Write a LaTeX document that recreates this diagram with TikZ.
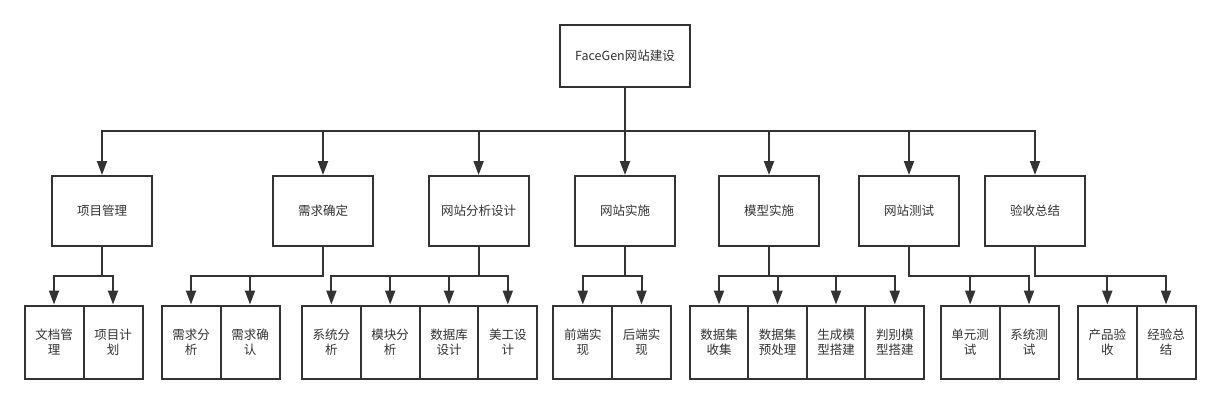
\documentclass[tikz,border=0pt]{standalone}
\usepackage{fontspec}
\setmainfont{Noto Sans CJK SC}
\usetikzlibrary{arrows.meta}
\definecolor{linec}{HTML}{333333}
\definecolor{textc}{HTML}{333333}
\begin{document}
\begin{tikzpicture}[x=1pt,y=-1pt,
  box/.style={draw=linec, line width=2pt, fill=white, inner sep=0pt, align=center, text=textc, font=\fontsize{12.5}{15}\selectfont},
  rootbox/.style={box, minimum width=130pt, minimum height=62pt},
  midbox/.style={box, minimum width=100pt, minimum height=70pt},
  leafbox/.style={box, minimum width=59pt, minimum height=73pt},
  conn/.style={draw=linec, line width=2pt, -{Triangle[length=14pt,width=10pt]}}
]
\useasboundingbox (0,0) rectangle (1221,404);
\coordinate (b1) at (0,131);
\coordinate (b2) at (0,276);

\node[rootbox] (root) at (625,56) {FaceGen网站建设};

\node[midbox] (m1) at (102,211) {项目管理};
\node[midbox] (m2) at (323,211) {需求确定};
\node[midbox] (m3) at (478.6,211) {网站分析设计};
\node[midbox] (m4) at (625,211) {网站实施};
\node[midbox] (m5) at (769,211) {模型实施};
\node[midbox] (m6) at (909,211) {网站测试};
\node[midbox] (m7) at (1035,211) {验收总结};

\node[leafbox] (l1) at (54,342) {文档管\\理};
\node[leafbox] (l2) at (113,342) {项目计\\划};
\node[leafbox] (l3) at (191,342) {需求分\\析};
\node[leafbox] (l4) at (250,342) {需求确\\认};
\node[leafbox] (l5) at (331.4,342) {系统分\\析};
\node[leafbox] (l6) at (390.2,342) {模块分\\析};
\node[leafbox] (l7) at (449,342) {数据库\\设计};
\node[leafbox] (l8) at (507.8,342) {美工设\\计};
\node[leafbox] (l9) at (582.8,342) {前端实\\现};
\node[leafbox] (l10) at (641.5,342) {后端实\\现};
\node[leafbox] (l11) at (719,342) {数据集\\收集};
\node[leafbox] (l12) at (777.5,342) {数据集\\预处理};
\node[leafbox] (l13) at (836,342) {生成模\\型搭建};
\node[leafbox] (l14) at (894.8,342) {判别模\\型搭建};
\node[leafbox] (l15) at (970.2,342) {单元测\\试};
\node[leafbox] (l16) at (1029,342) {系统测\\试};
\node[leafbox] (l17) at (1107.3,342) {产品验\\收};
\node[leafbox] (l18) at (1166,342) {经验总\\结};

\foreach \m in {m1,m2,m3,m4,m5,m6,m7}
  \draw[conn] (root.south) -- (root.south |- b1) -| (\m.north);

\foreach \p/\c in {m1/l1,m1/l2,m2/l3,m2/l4,m3/l5,m3/l6,m3/l7,m3/l8,m4/l9,m4/l10,m5/l11,m5/l12,m5/l13,m5/l14,m6/l15,m6/l16,m7/l17,m7/l18}
  \draw[conn] (\p.south) -- (\p.south |- b2) -| (\c.north);
\end{tikzpicture}
\end{document}
